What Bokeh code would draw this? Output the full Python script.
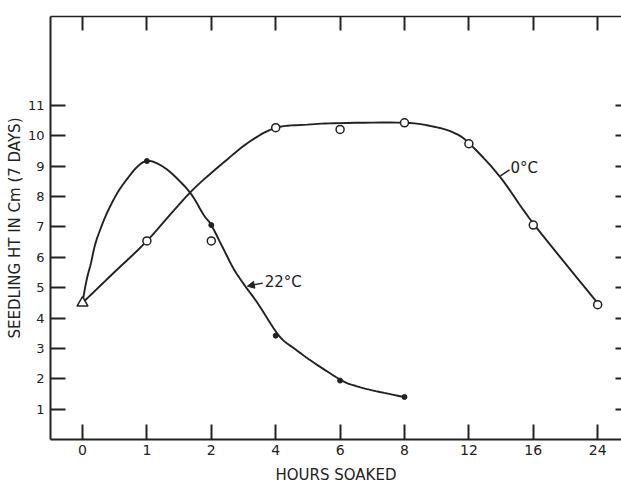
from bokeh.plotting import figure
from bokeh.models import Range1d, LinearAxis, FixedTicker, Label, Arrow, NormalHead
from bokeh.embed import file_html
from bokeh.resources import INLINE

# ---- data ----
hour_labels = ["0", "1", "2", "4", "6", "8", "12", "16", "24"]
hour_pos = [0, 1, 2, 3, 4, 5, 6, 7, 8]          # equally spaced category slots
ht_0c = [4.5, 6.54, 6.54, 10.27, 10.21, 10.43, 9.74, 7.06, 4.44]
ht_22c = [4.5, 9.17, 7.06, 3.42, 1.94, 1.40]    # hours 0 .. 8
y_ticks = [1, 2, 3, 4, 5, 6, 7, 8, 9, 10, 11]

# hand-drawn curves (slot position, height)
curve_22c_x = [0, 0.04, 0.08, 0.13, 0.2, 0.3, 0.4, 0.55, 0.7, 0.85, 0.99, 1.15, 1.37,
               1.67, 1.88, 2.0, 2.19, 2.35, 2.53, 2.71, 3.05, 3.3, 3.6, 4.03, 4.25,
               4.5, 4.99]
curve_22c_y = [4.5, 5.0, 5.4, 5.8, 6.45, 7.05, 7.55, 8.15, 8.6, 8.98, 9.17, 9.1, 8.79,
               8.13, 7.4, 7.06, 6.27, 5.61, 5.04, 4.52, 3.42, 2.98, 2.52, 1.94, 1.76,
               1.62, 1.40]
curve_0c_x = [0, 0.49, 1.0, 1.67, 2.19, 2.61, 3.01, 3.49, 4.0, 5.0, 5.46, 5.77, 6.01,
              6.48, 7.02, 8.02]
curve_0c_y = [4.5, 5.5, 6.54, 8.13, 9.12, 9.83, 10.27, 10.37, 10.42, 10.43, 10.3,
              10.1, 9.74, 8.66, 7.06, 4.44]

INK = "#222222"
FONT = "DejaVu Sans"


def smooth(xs, ys, steps=8):
    """Catmull-Rom rendering of a traced hand-drawn curve through its knots."""
    ox, oy = [], []
    n = len(xs)
    for i in range(n - 1):
        x0, y0 = (xs[i - 1], ys[i - 1]) if i > 0 else (xs[i], ys[i])
        x1, y1 = xs[i], ys[i]
        x2, y2 = xs[i + 1], ys[i + 1]
        x3, y3 = (xs[i + 2], ys[i + 2]) if i + 2 < n else (x2, y2)
        for k in range(steps):
            t = k / steps
            t2, t3 = t * t, t * t * t
            ox.append(0.5 * (2 * x1 + (-x0 + x2) * t + (2 * x0 - 5 * x1 + 4 * x2 - x3) * t2
                             + (-x0 + 3 * x1 - 3 * x2 + x3) * t3))
            oy.append(0.5 * (2 * y1 + (-y0 + y2) * t + (2 * y0 - 5 * y1 + 4 * y2 - y3) * t2
                             + (-y0 + 3 * y1 - 3 * y2 + y3) * t3))
    ox.append(xs[-1])
    oy.append(ys[-1])
    return ox, oy


p = figure(width=621, height=486, output_backend="svg", toolbar_location=None,
           x_range=Range1d(-0.497, 8.37), y_range=Range1d(0, 13.93),
           min_border_left=50, min_border_right=0, min_border_top=16,
           min_border_bottom=46, x_axis_location=None, y_axis_location=None)
p.outline_line_color = None
p.grid.grid_line_color = None
p.background_fill_color = "white"
p.border_fill_color = "white"


def style_axis(ax, ticks, tick_in, line_w, labels=True, line=True):
    ax.ticker = FixedTicker(ticks=ticks)
    ax.major_tick_in = tick_in
    ax.major_tick_out = 0
    ax.major_tick_line_color = INK
    ax.major_tick_line_width = 2
    ax.minor_tick_line_color = None
    ax.axis_line_color = INK if line else None
    ax.axis_line_width = line_w
    ax.major_label_text_font = FONT
    ax.major_label_text_font_size = "14px" if labels else "0px"
    ax.major_label_text_color = INK if labels else None
    ax.major_label_standoff = 5 if labels else 0
    ax.axis_label_text_font = FONT
    ax.axis_label_text_font_size = "15px"
    ax.axis_label_text_font_style = "normal"
    ax.axis_label_text_color = INK


xb = LinearAxis(axis_label="HOURS SOAKED")
style_axis(xb, hour_pos, 15, 2)
xb.major_label_overrides = {i: s for i, s in zip(hour_pos, hour_labels)}
xb.axis_label_standoff = 8
p.add_layout(xb, "below")

xt = LinearAxis()
style_axis(xt, hour_pos, 14, 1.5, labels=False)
p.add_layout(xt, "above")

yl = LinearAxis(axis_label="SEEDLING HT IN Cm (7 DAYS)")
style_axis(yl, y_ticks, 15, 2)
yl.major_label_text_font_size = "13px"
yl.major_label_standoff = 6
yl.axis_label_standoff = 1
p.add_layout(yl, "left")

yr = LinearAxis()
style_axis(yr, y_ticks, 6, 1.5, labels=False, line=False)
p.add_layout(yr, "right")

# curves
cx, cy = smooth(curve_0c_x, curve_0c_y)
p.line(cx, cy, line_width=1.9, line_color=INK)
cx, cy = smooth(curve_22c_x, curve_22c_y)
p.line(cx, cy, line_width=1.9, line_color=INK)

# markers
p.scatter(hour_pos[1:], ht_0c[1:], marker="circle", size=8, fill_color="white",
          line_color=INK, line_width=1.5)
p.scatter(hour_pos[1:len(ht_22c)], ht_22c[1:], marker="circle", size=5,
          fill_color=INK, line_color=INK)
p.scatter(hour_pos[:1], ht_0c[:1], marker="triangle", size=11, fill_color="white",
          line_color=INK, line_width=1.5)

# curve labels
p.add_layout(Arrow(end=NormalHead(size=7, fill_color=INK, line_color=INK),
                   x_start=2.8, y_start=5.15, x_end=2.56, y_end=5.05,
                   line_color=INK, line_width=1.5))
p.add_layout(Label(x=2.83, y=5.18, text="22°C", text_font=FONT,
                   text_font_size="15px", text_color=INK,
                   text_align="left", text_baseline="middle"))
p.add_layout(Arrow(end=None, x_start=6.49, y_start=8.68, x_end=6.63, y_end=8.88,
                   line_color=INK, line_width=1.5))
p.add_layout(Label(x=6.646, y=8.95, text="0°C", text_font=FONT,
                   text_font_size="15px", text_color=INK,
                   text_align="left", text_baseline="middle"))

open("out.html", "w").write(file_html(p, INLINE))
